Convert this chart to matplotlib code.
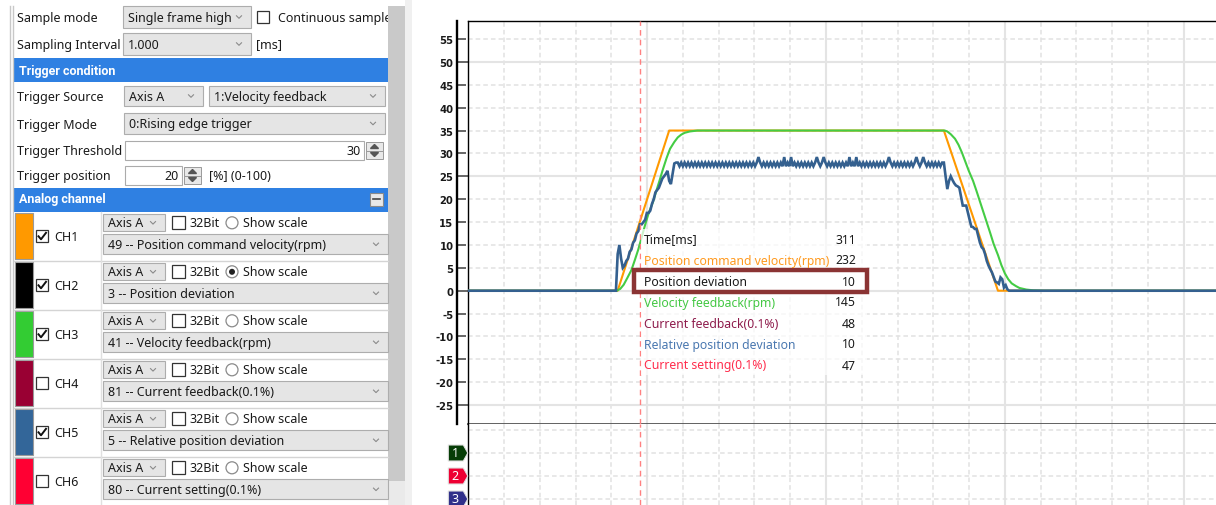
import numpy as np
import matplotlib
matplotlib.use("Agg")
import matplotlib.pyplot as plt
from matplotlib.patches import Rectangle, Polygon, Circle
from matplotlib.ticker import MultipleLocator, FormatStrFormatter, FixedLocator
import matplotlib.transforms as mtransforms

plt.rcParams['font.family'] = ['Noto Sans', 'DejaVu Sans']

# ---------------- data ----------------
window_ms = 1000          # one screen of samples
visible_ms = 871          # part of the window that is visible
trigger_ms = 200          # trigger position 20 %

# CH1 position command velocity
cmd_t = [0, 174, 234, 554, 617, 871]
cmd_v = [0, 0, 35, 35, 0, 0]

# CH3 velocity feedback
fb_t = [0, 173, 177, 181, 185, 190, 194, 198, 202, 206, 210, 215, 219, 223, 227, 231,
        235, 240, 244, 248, 252, 258, 267,
        555, 558, 562, 567, 571, 575, 579, 583, 588, 592, 596, 600, 604, 608, 612, 617,
        621, 625, 629, 633, 638, 642, 650, 658, 671, 871]
fb_v = [0, 0, 0.4, 1.3, 2.7, 4.5, 6.7, 9.0, 11.7, 14.4, 16.9, 19.3, 21.8, 24.2, 26.7, 29.0,
        31.0, 32.5, 33.5, 34.1, 34.5, 34.8, 35.0,
        35.0, 34.8, 34.2, 33.2, 31.9, 30.2, 28.2, 26.2, 24.0, 21.8, 19.5, 17.2, 14.9, 12.6, 10.2, 7.8,
        5.6, 3.8, 2.5, 1.6, 1.0, 0.6, 0.25, 0.08, 0, 0]

# CH5 relative position deviation, sampled every 2 ms from 170 ms
rel_start = 170
rel_step = 2
rel_v = [
    0, 0, 8.0, 10.0, 7.0, 5.0, 5.5, 6.5, 7.0, 8.5,
    9.0, 10.5, 11.0, 12.5, 13.0, 14.5, 14.5, 15.0, 15.5, 17.0,
    17.0, 17.5, 19.0, 20.0, 21.5, 22.0, 22.5, 23.5, 24.5, 25.0,
    25.5, 26.2, 24.0, 23.3, 25.5, 27.8, 28.0,
    28.0, 27.2, 28.0, 27.2, 28.0, 27.2, 28.0, 27.2, 28.0, 27.2,
    28.0, 27.2, 28.0, 27.2, 28.0, 27.2, 28.0, 27.2, 28.0, 27.2,
    28.0, 27.2, 28.0, 27.2, 28.0, 27.2, 28.0, 27.2, 28.0, 27.2,
    28.0, 27.2, 28.0, 27.2, 28.0, 27.2, 28.0, 27.2, 28.0, 27.2,
    28.0, 27.2, 28.0, 27.2, 28.0, 27.2, 28.0, 29.2, 28.0, 27.2,
    28.0, 27.2, 28.0, 27.2, 28.0, 27.2, 28.0, 27.2, 28.0, 27.2,
    28.0, 27.2, 29.2, 27.2, 28.0, 27.2, 29.2, 27.2, 28.0, 27.2,
    28.0, 27.2, 28.0, 27.2, 28.0, 27.2, 28.0, 27.2, 28.0, 27.2,
    28.0, 29.2, 28.0, 27.2, 28.0, 29.2, 28.0, 27.2, 28.0, 27.2,
    28.0, 27.2, 28.0, 27.2, 28.0, 27.2, 28.0, 27.2, 28.0, 27.2,
    29.2, 27.2, 28.0, 27.2, 29.2, 27.2, 28.0, 27.2, 28.0, 27.2,
    28.0, 27.2, 28.0, 27.2, 28.0, 27.2, 28.0, 27.2, 28.0, 27.2,
    28.0, 27.2, 28.0, 29.2, 28.0, 27.2, 28.0, 27.2, 28.0, 27.2,
    28.0, 27.2, 28.0, 27.2, 28.0, 27.2, 28.0, 27.2, 28.0, 29.2,
    28.0, 27.2, 28.0, 29.2, 28.0, 27.2, 28.0, 27.2, 28.0, 27.2,
    28.0, 27.2, 28.0, 27.2, 28.0,
    28.0, 25.0, 22.2, 24.0, 25.0, 24.2, 23.5, 23.0, 22.8, 22.5,
    20.5, 18.6, 18.6, 18.6, 17.0, 15.5, 14.0, 13.9, 13.5, 13.5,
    12.0, 10.5, 9.5, 9.1, 8.0, 6.5, 5.5, 4.7, 4.0, 3.0,
    2.0, 1.8, 1.5, 2.9, 2.5, 0.7, 1.2, 0.3, 0.0,
]
rel_t = [0] + [rel_start + rel_step * i for i in range(len(rel_v))] + [visible_ms]
rel_y = [0] + rel_v + [0]

# tooltip
tip_labels = ["Time[ms]", "Position command velocity(rpm)", "Position deviation",
              "Velocity feedback(rpm)", "Current feedback(0.1%)",
              "Relative position deviation", "Current setting(0.1%)"]
tip_values = [311, 232, 10, 145, 48, 10, 47]
tip_colors = ["#1a1a1a", "#FF9A1F", "#1a1a1a", "#44C844", "#8E1C4C", "#4A78B0", "#FF2D4D"]

# channel panel
ch_names = ["CH1", "CH2", "CH3", "CH4", "CH5", "CH6"]
ch_colors = ["#FF9900", "#000000", "#33CC33", "#990033", "#336699", "#FF0033"]
ch_checked = [True, True, True, False, True, False]
ch_scale = [False, True, False, False, False, False]
ch_signals = ["49 -- Position command velocity(rpm)", "3 -- Position deviation",
              "41 -- Velocity feedback(rpm)", "81 -- Current feedback(0.1%)",
              "5 -- Relative position deviation", "80 -- Current setting(0.1%)"]

dig_labels = ["1", "2", "3"]
dig_colors = ["#063D06", "#EE0033", "#30308A"]

line_orange = "#FF9900"
line_green = "#44CC44"
line_blue = "#34608F"

# ---------------- figure ----------------
fig = plt.figure(figsize=(12.16, 5.06), dpi=100)
ui = fig.add_axes([0, 0, 1, 1], zorder=0)
ui.set_xlim(0, 1216)
ui.set_ylim(506, 0)
ui.axis('off')

TXT = '#1a1a1a'
FS = 9


def rect(x0, y0, x1, y1, fc, ec='none', lw=0.8, z=1):
    ui.add_patch(Rectangle((x0, y0), x1 - x0, y1 - y0, facecolor=fc,
                           edgecolor=ec, linewidth=lw, zorder=z))


def label(x, y, s, ha='left', color=TXT, size=FS, weight='normal', family=None):
    t = ui.text(x, y, s, ha=ha, va='center', color=color, fontsize=size,
                fontweight=weight, zorder=5)
    if family:
        t.set_family(family)


def chevron(x, y):
    ui.plot([x - 2.5, x, x + 2.5], [y - 1.2, y + 1.3, y - 1.2], color='#8a8a8a', lw=0.8, zorder=5)


def combo(x0, y0, x1, y1, s):
    rect(x0, y0, x1, y1, '#E5E5E5', '#ADADAD')
    label(x0 + 5, (y0 + y1) / 2, s)
    chevron(x1 - 12, (y0 + y1) / 2)


def checkbox(x0, y0, size, checked):
    rect(x0, y0, x0 + size, y0 + size, 'white', '#333333', lw=0.9, z=3)
    if checked:
        ui.plot([x0 + 2.5, x0 + 5, x0 + size - 2], [y0 + size / 2, y0 + size - 3, y0 + 2.5],
                color='#111111', lw=1.4, zorder=6)


def radio(x, y, on):
    ui.add_patch(Circle((x, y), 6, facecolor='white', edgecolor='#8a8a8a', lw=0.9, zorder=3))
    if on:
        ui.add_patch(Circle((x, y), 3, facecolor='#222222', edgecolor='none', zorder=4))


def spin(x0, y0, x1, y1):
    ym = (y0 + y1) / 2
    rect(x0, y0, x1, ym, '#E8E8E8', '#9a9a9a', lw=0.7)
    rect(x0, ym, x1, y1, '#E8E8E8', '#9a9a9a', lw=0.7)
    xc = (x0 + x1) / 2
    ui.add_patch(Polygon([[xc - 4, ym - 2], [xc + 4, ym - 2], [xc, ym - 6]], color='#555', zorder=4))
    ui.add_patch(Polygon([[xc - 4, ym + 2], [xc + 4, ym + 2], [xc, ym + 6]], color='#555', zorder=4))


# panel background pieces
ui.plot([9.5, 9.5], [7, 506], color='#C8C8C8', lw=1)
ui.plot([12.5, 12.5], [7, 506], color='#C8C8C8', lw=1)
rect(388, 7, 405, 482, '#C9C9C9')
rect(388, 482, 405, 506, '#EAEAEA')
rect(405, 0, 412, 506, '#F0F0F0')

# settings rows
label(17, 18.3, "Sample mode")
combo(123, 7, 251, 29, "Single frame high")
checkbox(257, 12, 12, False)
label(278, 18, "Continuous sample")
rect(388, 7, 405, 30, '#C9C9C9', z=6)

label(17, 45, "Sampling Interval")
combo(123, 34, 251, 56, "1.000")
label(256, 45, "[ms]")

rect(14, 59, 388, 83, '#2F80E2')
label(19, 71, "Trigger condition", color='white', weight='bold', family='Roboto')

label(17, 97, "Trigger Source")
combo(124, 87, 203, 107, "Axis A")
combo(209, 87, 385, 107, "1:Velocity feedback")

label(17, 125, "Trigger Mode")
combo(124, 114, 385, 135, "0:Rising edge trigger")

label(17, 151, "Trigger Threshold")
rect(125, 142, 364, 161, 'white', '#ABABAB')
label(361, 151.5, "30", ha='right')
spin(366, 143, 383, 160)

label(17, 176, "Trigger position")
rect(125, 167, 182, 186, 'white', '#ABABAB')
label(179, 176.5, "20", ha='right')
spin(184, 168, 201, 185)
label(209, 176, "[%] (0-100)")

rect(14, 189, 388, 213, '#2F80E2')
label(19, 200, "Analog channel", color='white', weight='bold', family='Roboto')
rect(370, 193.5, 383, 207, '#E8E8E8', '#8a8a8a', lw=0.8, z=3)
ui.plot([373, 380], [200.3, 200.3], color='#444', lw=1.2, zorder=5)

for i, name in enumerate(ch_names):
    y0 = 214.3 + 49 * i
    rect(15, y0, 33, y0 + 46, ch_colors[i], '#9a9a9a', lw=0.8)
    checkbox(36, y0 + 17, 12, ch_checked[i])
    label(54, y0 + 23, name)
    combo(103, y0 + 1, 165, y0 + 18, "Axis A")
    checkbox(172, y0 + 3, 13, False)
    label(190, y0 + 9, "32Bit")
    radio(232, y0 + 9.5, ch_scale[i])
    label(243, y0 + 9, "Show scale")
    combo(103, y0 + 21, 388, y0 + 41, ch_signals[i])
    ui.plot([14, 388], [y0 + 47.5, y0 + 47.5], color='#D4D4D4', lw=1)
ui.plot([101, 101], [213, 506], color='#E0E0E0', lw=1)

# ---------------- chart ----------------
x0px, top_px, sep_px = 468.3, 22.0, 425.3
W, H = 1216.0, 506.0
y_per_px = 1 / 4.576
zero_px = 291.7

ax = fig.add_axes([x0px / W, (H - sep_px) / H, (W - x0px) / W, (sep_px - top_px) / H], zorder=2)
ax.set_xlim(0, visible_ms)
ax.set_ylim(-(sep_px - zero_px) * y_per_px, (zero_px - top_px) * y_per_px)

grid_ms = window_ms / 24
ax.xaxis.set_major_locator(MultipleLocator(grid_ms * 5))
ax.xaxis.set_minor_locator(MultipleLocator(grid_ms))
ax.yaxis.set_major_locator(FixedLocator([-25, 0, 25, 50]))
ax.yaxis.set_minor_locator(MultipleLocator(5))
ax.yaxis.set_major_formatter(FormatStrFormatter('%d'))
ax.yaxis.set_minor_formatter(FormatStrFormatter('%d'))
ax.grid(which='major', color='#E4E4E4', lw=1.5, ls='-')
ax.grid(which='minor', color='#E2E2E2', lw=1.1, ls=(0, (3, 2)))
ax.set_axisbelow(True)
ax.tick_params(axis='x', which='both', length=0, labelbottom=False)
ax.tick_params(axis='y', which='major', direction='in', length=7.9, width=1.4, color='#666666',
               pad=2.8, labelsize=7.2, labelcolor='#1a1a1a', labelfontfamily='DejaVu Sans')
ax.tick_params(axis='y', which='minor', direction='in', length=6.3, width=1.4, color='#666666',
               pad=2.8, labelsize=7.2, labelcolor='#1a1a1a', labelfontfamily='DejaVu Sans')
ax.spines['left'].set_position(('outward', 11 * 0.72))
ax.spines['left'].set_linewidth(1.7)
ax.spines['left'].set_color('black')
ax.spines['right'].set_visible(False)
ax.spines['top'].set_color('black')
ax.spines['top'].set_linewidth(1.0)
ax.spines['bottom'].set_color('#555555')
ax.spines['bottom'].set_linewidth(1.3)
ax.axvline(0, color='black', lw=1.0, clip_on=False, zorder=3)

ax.plot(cmd_t, cmd_v, color=line_orange, lw=1.5, zorder=3)
ax.plot(fb_t, fb_v, color=line_green, lw=1.5, zorder=4)
ax.plot(rel_t, rel_y, color=line_blue, lw=1.9, zorder=5, solid_joinstyle='miter')
ax.axvline(trigger_ms, color='#FF8080', lw=1.0, ls=(0, (4, 3)), zorder=6)

# lower digital area
ax2 = fig.add_axes([x0px / W, 0, (W - x0px) / W, (H - sep_px) / H], zorder=2)
ax2.set_xlim(0, visible_ms)
ax2.set_ylim(3 + 6 / 23, -(431 - sep_px) / 23)
ax2.xaxis.set_major_locator(MultipleLocator(grid_ms * 5))
ax2.xaxis.set_minor_locator(MultipleLocator(grid_ms))
ax2.yaxis.set_major_locator(FixedLocator([]))
ax2.yaxis.set_minor_locator(FixedLocator([0, 1, 2, 3]))
ax2.grid(which='major', axis='x', color='#E4E4E4', lw=1.5, ls='-')
ax2.grid(which='minor', color='#E2E2E2', lw=1.1, ls=(0, (3, 2)))
ax2.set_axisbelow(True)
ax2.tick_params(which='both', length=0, labelbottom=False, labelleft=False)
for s in ('right', 'top', 'bottom'):
    ax2.spines[s].set_visible(False)
ax2.spines['left'].set_color('black')
ax2.spines['left'].set_linewidth(1.0)
ax2.axvline(trigger_ms, color='#FF8080', lw=1.0, ls=(0, (4, 3)), zorder=6)

for i, (s, c) in enumerate(zip(dig_labels, dig_colors)):
    tr = mtransforms.ScaledTranslation(0, i + 1, ax2.get_yaxis_transform())
    ax2.add_patch(Polygon([[-20, -8], [-5, -8], [-0.5, 0], [-5, 8], [-20, 8]],
                          closed=True, facecolor=c, edgecolor='#E0E0E0', lw=0.8,
                          transform=mtransforms.Affine2D() + tr, clip_on=False, zorder=7))
    ax2.text(-13, 0, s, color='white', fontsize=9, ha='center', va='center',
             transform=mtransforms.Affine2D() + tr, clip_on=False, zorder=8)

# ---------------- tooltip ----------------
ov = fig.add_axes([0, 0, 1, 1], zorder=10)
ov.set_xlim(0, 1216)
ov.set_ylim(506, 0)
ov.axis('off')
ov.patch.set_alpha(0)
ov.add_patch(Rectangle((641, 230), 226, 146, facecolor='white', alpha=0.72, edgecolor='none'))
ov.add_patch(Rectangle((634, 270.5), 233, 22, facecolor='white', edgecolor='#8B3434', lw=3.2))
for i, (s, v, c) in enumerate(zip(tip_labels, tip_values, tip_colors)):
    y = 240 + 21 * i
    ov.text(644, y, s, color=c, fontsize=8.8, ha='left', va='center')
    ov.text(856, y, str(v), color='#1a1a1a', fontsize=8.8, ha='right', va='center')

fig.canvas.draw()
for t in ax.yaxis.get_ticklabels(which='both'):
    t.set_fontweight('bold')

fig.savefig('out.png', dpi=100)
